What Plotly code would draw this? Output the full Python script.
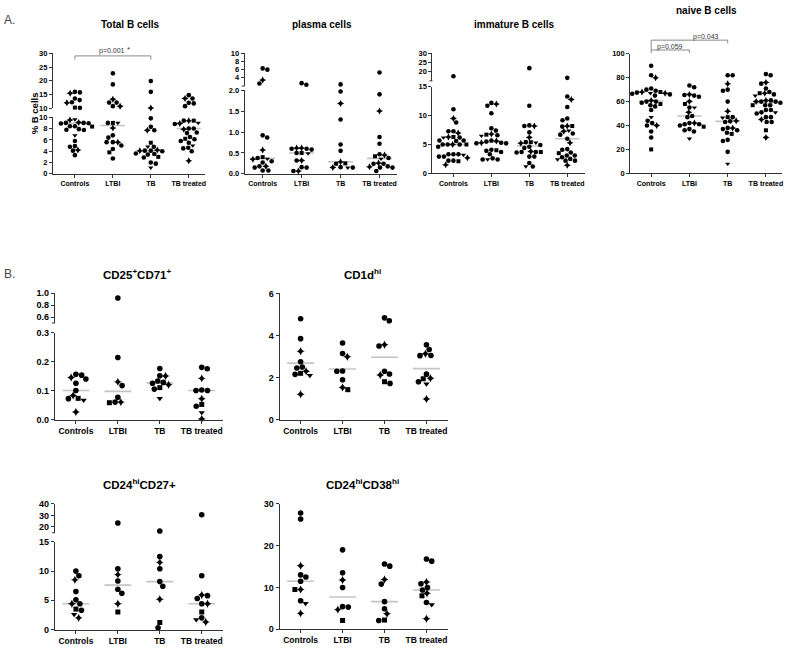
import plotly.graph_objects as go
import numpy as np

W, H = 786, 649
CATEGORIES = ["Controls", "LTBI", "TB", "TB treated"]

# ---------------- Panel A data ----------------
total_controls = [16.0, 15.8, 15.5, 13.6, 13.0, 12.2, 12.0, 10.3, 10.2, 9.6, 9.5, 9.0, 9.0, 8.95, 9.05,
                  8.9, 8.4, 8.4, 8.35, 7.8, 7.9, 7.75, 6.8, 5.8, 4.8, 4.9, 4.2, 4.1, 3.3]
total_ltbi = [22.7, 18.7, 13.3, 12.1, 12.1, 10.8, 10.8, 9.0, 9.0, 9.0, 8.1, 6.8, 6.4, 5.6, 5.6, 5.6,
              5.0, 4.4, 3.8, 2.7]
total_tb = [19.9, 16.0, 10.1, 9.8, 8.3, 7.7, 7.7, 5.5, 4.8, 4.8, 4.2, 4.1, 4.1, 4.0, 4.1, 3.6, 3.5,
            3.4, 3.0, 2.9, 2.0, 1.8, 1.1]
total_tbt = [14.8, 13.6, 13.6, 12.0, 11.8, 10.8, 9.4, 9.4, 9.4, 9.0, 8.9, 8.8, 8.0, 8.0, 7.9, 7.3,
             7.2, 6.5, 6.2, 6.1, 5.8, 5.5, 5.0, 4.6, 4.5, 4.0, 2.3]

plasma_controls = [6.3, 6.0, 3.5, 2.6, 0.92, 0.87, 0.57, 0.40, 0.38, 0.36, 0.35, 0.30, 0.27, 0.18,
                   0.18, 0.15, 0.08, 0.08]
plasma_ltbi = [2.7, 2.3, 0.62, 0.60, 0.58, 0.60, 0.62, 0.50, 0.50, 0.49, 0.32, 0.32, 0.16, 0.15,
               0.07, 0.07]
plasma_tb = [2.4, 1.97, 1.68, 1.3, 0.7, 0.55, 0.29, 0.25, 0.24, 0.15, 0.15, 0.15, 0.16]
plasma_tbt = [5.3, 1.9, 1.5, 0.88, 0.72, 0.47, 0.45, 0.42, 0.38, 0.36, 0.26, 0.24, 0.24, 0.18, 0.17,
              0.15, 0.15, 0.07]

immature_controls = [17.5, 11.1, 9.5, 8.8, 7.3, 7.3, 7.0, 6.3, 6.2, 6.2, 6.3, 5.7, 5.7, 5.6, 5.0,
                     5.0, 5.0, 5.0, 5.0, 4.6, 3.3, 3.3, 3.2, 3.3, 2.9, 2.9, 2.7, 2.2, 2.2, 2.1, 1.5]
immature_ltbi = [12.2, 11.7, 12.0, 10.4, 7.8, 7.4, 6.8, 6.7, 6.6, 6.5, 5.6, 5.7, 5.5, 5.3, 5.3, 5.2,
                 5.2, 4.1, 4.0, 3.9, 3.7, 3.3, 2.4, 2.4, 2.4, 2.6]
immature_tb = [21.9, 11.7, 8.2, 8.2, 8.3, 7.1, 6.2, 5.4, 5.4, 5.3, 5.2, 4.9, 4.6, 4.4, 3.8, 3.7, 3.7,
               3.6, 3.7, 2.9, 2.9, 1.8, 1.2, 1.2]
immature_tbt = [16.6, 13.3, 12.8, 11.5, 9.5, 9.2, 8.2, 8.2, 8.1, 7.4, 7.3, 6.9, 6.7, 6.0, 5.3, 4.1,
                4.2, 3.6, 3.5, 3.1, 3.1, 2.8, 2.4, 2.5, 2.2, 2.2, 1.4]

naive_controls = [90, 82, 80, 71, 70, 69, 68, 68, 67.5, 67, 67, 66.5, 66, 65, 61, 60, 60, 59, 58, 57,
                  56, 53, 47, 44, 42, 40, 40, 35, 30, 20]
naive_ltbi = [73.5, 72, 66, 65.5, 65, 64, 60, 58, 55, 55, 51, 48, 47, 42, 42, 41, 41, 40, 39, 37, 36,
              35, 29]
naive_tb = [82, 82, 75, 70, 69, 60, 52, 47, 47, 46.5, 44, 43.5, 43, 38, 38, 37, 36, 34, 33, 28, 27,
            18, 8]
naive_tbt = [83, 82, 76, 75, 71, 68, 67, 67, 66, 65, 61, 61, 60, 60, 60, 59, 57, 57, 57, 53, 53, 51,
             51, 50, 47, 47, 45, 43, 43, 36, 30]

# ---------------- Panel B data ----------------
cd25_controls = [0.156, 0.153, 0.145, 0.14, 0.125, 0.1, 0.083, 0.073, 0.072, 0.067, 0.026]
cd25_ltbi = [0.92, 0.214, 0.13, 0.117, 0.077, 0.06, 0.06, 0.058]
cd25_tb = [0.176, 0.151, 0.15, 0.133, 0.128, 0.125, 0.12, 0.11, 0.105, 0.073]
cd25_tbt = [0.18, 0.175, 0.142, 0.102, 0.1, 0.1, 0.072, 0.052, 0.046, 0.024, 0.002]

cd1d_controls = [4.8, 3.85, 3.25, 2.75, 2.5, 2.45, 2.3, 2.2, 2.15, 2.1, 1.2]
cd1d_ltbi = [3.64, 3.14, 2.99, 2.31, 2.3, 1.89, 1.53, 1.42]
cd1d_tb = [4.84, 4.7, 3.56, 3.5, 2.3, 2.17, 2.12, 1.8, 1.72]
cd1d_tbt = [3.56, 3.33, 3.13, 3.05, 3.04, 2.16, 1.97, 1.94, 1.8, 1.69, 0.98]

cd27_controls = [10.0, 9.2, 8.5, 6.5, 5.1, 4.4, 4.4, 3.5, 3.3, 2.6, 2.0]
cd27_ltbi = [23.5, 10.4, 9.4, 8.3, 6.9, 6.2, 4.4, 3.0]
cd27_tb = [16.5, 12.5, 11.5, 10.4, 8.2, 7.4, 5.2, 1.2, 0.3]
cd27_tbt = [30.6, 9.2, 5.9, 5.8, 5.3, 4.4, 4.4, 3.0, 2.0, 1.7, 1.3]

cd38_controls = [27.8, 26.4, 15.2, 13.0, 12.5, 11.5, 9.5, 9.5, 6.8, 6.2, 3.8]
cd38_ltbi = [19.0, 13.5, 11.8, 10.0, 5.4, 5.3, 4.7, 2.1]
cd38_tb = [15.6, 15.1, 11.9, 10.8, 6.6, 4.9, 3.7, 2.2, 2.1]
cd38_tbt = [16.8, 16.3, 11.3, 10.9, 10.0, 9.4, 8.6, 8.0, 6.4, 5.9, 2.5]

# ---------------- Tick values ----------------
total_ticks_low = [0, 2, 4, 6, 8, 10]
total_ticks_high = [10, 15, 20, 25, 30]
plasma_ticks_low = [0.0, 0.5, 1.0, 1.5, 2.0]
plasma_ticks_high = [4, 6, 8, 10]
immature_ticks_low = [0, 5, 10, 15]
immature_ticks_high = [20, 25, 30]
naive_ticks = [0, 20, 40, 60, 80, 100]
cd25_ticks_low = [0.0, 0.1, 0.2, 0.3]
cd25_ticks_high = [0.6, 0.8, 1.0]
cd1d_ticks = [0, 2, 4, 6]
cd27_ticks_low = [0, 5, 10, 15]
cd27_ticks_high = [20, 30, 40]
cd38_ticks = [0, 10, 20, 30]

SANS = "Liberation Sans, Arial, sans-serif"
INK = "#000000"
AXC = "#333333"

# panel geometry in pixels: xgeom=(axis_left, first_category, spacing, axis_right)
# seg px=(bottom, top); brk=True draws a break tick at the bottom of the upper segment
panels = [
    dict(title="Total B cells", tpos=(131, 20), groups=[total_controls, total_ltbi, total_tb, total_tbt],
         xgeom=(53, 75, 38, 205), small=True, stat="median",
         segs=[dict(rng=(0, 10), px=(171.5, 114), ticks=total_ticks_low, fmt="{:g}", brk=False),
               dict(rng=(10, 30), px=(105, 49), ticks=total_ticks_high, fmt="{:g}", brk=False)]),
    dict(title="plasma cells", tpos=(322, 20), groups=[plasma_controls, plasma_ltbi, plasma_tb, plasma_tbt],
         xgeom=(245, 263, 39, 398), small=True, stat="median",
         segs=[dict(rng=(0, 2), px=(171.5, 86.5), ticks=plasma_ticks_low, fmt="{:.1f}", brk=False),
               dict(rng=(2, 10), px=(82.3, 49), ticks=plasma_ticks_high, fmt="{:g}", brk=True)]),
    dict(title="immature B cells", tpos=(515, 20),
         groups=[immature_controls, immature_ltbi, immature_tb, immature_tbt],
         xgeom=(433, 454, 38, 586), small=True, stat="median",
         segs=[dict(rng=(0, 15), px=(171, 83), ticks=immature_ticks_low, fmt="{:g}", brk=False),
               dict(rng=(15, 30), px=(77, 49), ticks=immature_ticks_high, fmt="{:g}", brk=True)]),
    dict(title="naive B cells", tpos=(707, 6), groups=[naive_controls, naive_ltbi, naive_tb, naive_tbt],
         xgeom=(631, 652, 38.3, 783), small=True, stat="median",
         segs=[dict(rng=(0, 100), px=(171, 49.5), ticks=naive_ticks, fmt="{:g}", brk=False)]),
    dict(title="CD25<sup>+</sup>CD71<sup>+</sup>", tpos=(138, 273),
         groups=[cd25_controls, cd25_ltbi, cd25_tb, cd25_tbt],
         xgeom=(55, 76, 42, 223), small=False, stat="median",
         segs=[dict(rng=(0, 0.3), px=(421, 332.7), ticks=cd25_ticks_low, fmt="{:.1f}", brk=False),
               dict(rng=(0.5, 1.0), px=(323, 292.7), ticks=cd25_ticks_high, fmt="{:.1f}", brk=True)]),
    dict(title="CD1d<sup>hi</sup>", tpos=(363, 273), groups=[cd1d_controls, cd1d_ltbi, cd1d_tb, cd1d_tbt],
         xgeom=(280, 301, 42, 449), small=False, stat="mean",
         segs=[dict(rng=(0, 6), px=(421, 293), ticks=cd1d_ticks, fmt="{:g}", brk=False)]),
    dict(title="CD24<sup>hi</sup>CD27+", tpos=(140, 487), groups=[cd27_controls, cd27_ltbi, cd27_tb, cd27_tbt],
         xgeom=(55, 76, 42, 223), small=False, stat="median",
         segs=[dict(rng=(0, 15), px=(634.3, 545.3), ticks=cd27_ticks_low, fmt="{:g}", brk=False),
               dict(rng=(15, 40), px=(536, 506.7), ticks=cd27_ticks_high, fmt="{:g}", brk=True)]),
    dict(title="CD24<sup>hi</sup>CD38<sup>hi</sup>", tpos=(363, 487),
         groups=[cd38_controls, cd38_ltbi, cd38_tb, cd38_tbt],
         xgeom=(280, 301, 42, 449), small=False, stat="median",
         segs=[dict(rng=(0, 30), px=(634, 506.7), ticks=cd38_ticks, fmt="{:g}", brk=False)]),
]


def seg_index(p, v):
    segs = p["segs"]
    if len(segs) > 1 and v > segs[0]["rng"][1]:
        return 1
    return 0


def value_px(p, v):
    s = p["segs"][seg_index(p, v)]
    lo, hi = s["rng"]
    b, t = s["px"]
    return b - (v - lo) / (hi - lo) * (b - t)


def swarm(ypx, dmin, step=0.25):
    n = len(ypx)
    order = sorted(range(n), key=lambda i: ypx[i])
    placed = []
    offs = [0.0] * n
    flip = 1.0
    for i in order:
        y = ypx[i]
        k = 0
        best = None
        while best is None:
            cands = [0.0] if k == 0 else [flip * k * step, -flip * k * step]
            for c in cands:
                if all((c - qx) ** 2 + (y - qy) ** 2 >= dmin ** 2 for qx, qy in placed):
                    best = c
                    break
            k += 1
        placed.append((best, y))
        offs[i] = best
        if best != 0:
            flip = -np.sign(best)
    return offs


def symbol_for(i):
    if i % 11 == 7:
        return "square"
    if i % 13 == 9:
        return "triangle-down"
    if i % 4 == 2:
        return "star-diamond"
    return "circle"


def pxx(px):
    return px / W


def pyy(py):
    return 1 - py / H


layout = dict(width=W, height=H, autosize=False, margin=dict(l=0, r=0, t=0, b=0, pad=0),
              paper_bgcolor="white", plot_bgcolor="rgba(0,0,0,0)", showlegend=False)
traces = []
annotations = []
shapes = []
xaxes_names = []

xi = 0
yi = 0
for p in panels:
    xi += 1
    xname = "x" if xi == 1 else f"x{xi}"
    xkey = "xaxis" if xi == 1 else f"xaxis{xi}"
    xaxes_names.append(xname)
    left, c0, sp, right = p["xgeom"]
    small = p["small"]
    tfs = 7 if small else 8.5
    yfs = 7.5 if small else 9
    ynames = []
    for si, s in enumerate(p["segs"]):
        yi += 1
        yname = "y" if yi == 1 else f"y{yi}"
        ykey = "yaxis" if yi == 1 else f"yaxis{yi}"
        ynames.append(yname)
        ttext = [s["fmt"].format(t) for t in s["ticks"]]
        layout[ykey] = dict(domain=[pyy(s["px"][0]), pyy(s["px"][1])], range=list(s["rng"]), anchor=xname,
                            tickvals=s["ticks"], ticktext=ttext, showline=True, linecolor=AXC, linewidth=1,
                            ticks="outside", ticklen=3, tickwidth=1, tickcolor=AXC, showgrid=False,
                            zeroline=False, tickfont=dict(family=SANS, size=yfs, color=INK, weight="bold"),
                            fixedrange=True)
        if s["brk"]:
            shapes.append(dict(type="line", xref="paper", yref="paper", x0=pxx(left - 3), x1=pxx(left),
                               y0=pyy(s["px"][0]), y1=pyy(s["px"][0]), line=dict(color=AXC, width=1)))
    layout[xkey] = dict(domain=[pxx(left), pxx(right)], range=[(left - c0) / sp, (right - c0) / sp],
                        anchor=ynames[0], tickvals=[0, 1, 2, 3], ticktext=CATEGORIES, showline=True,
                        linecolor=AXC, linewidth=1, ticks="outside", ticklen=3, tickwidth=1, tickcolor=AXC,
                        showgrid=False, zeroline=False,
                        tickfont=dict(family=SANS, size=tfs, color=INK, weight="bold"), fixedrange=True)

    dmin = 4.9 if small else 5.6
    msize = 4.6 if small else 5.6
    for c, vals in enumerate(p["groups"]):
        ypx = [value_px(p, v) for v in vals]
        offs = swarm(ypx, dmin)
        stat = float(np.median(vals)) if p["stat"] == "median" else float(np.mean(vals))
        hw = 0.32
        traces.append(go.Scatter(x=[c - hw, c + hw], y=[stat, stat], mode="lines",
                                 line=dict(color="#c4c4c4", width=1.6), xaxis=xname,
                                 yaxis=ynames[seg_index(p, stat)], hoverinfo="skip"))
        for si in range(len(p["segs"])):
            idx = [i for i, v in enumerate(vals) if seg_index(p, v) == si]
            if not idx:
                continue
            syms = [symbol_for(i) for i in idx]
            sizes = [msize + (0.4 if s_ == "star-diamond" else 0) - (0.6 if s_ == "square" else 0) for s_ in syms]
            traces.append(go.Scatter(x=[c + offs[i] / sp for i in idx], y=[vals[i] for i in idx],
                                     mode="markers", cliponaxis=False,
                                     marker=dict(color=INK, size=sizes, symbol=syms, opacity=1,
                                                 line=dict(width=0)),
                                     xaxis=xname, yaxis=ynames[si], hoverinfo="skip"))
    annotations.append(dict(text=p["title"], x=pxx(p["tpos"][0]), y=pyy(p["tpos"][1]), xref="paper",
                            yref="paper", showarrow=False, xanchor="center", yanchor="middle",
                            font=dict(family=SANS, size=10 if small else 11.5, color=INK, weight="bold")))

annotations.append(dict(text="A.", x=pxx(2), y=pyy(15), xref="paper", yref="paper", showarrow=False,
                        xanchor="left", yanchor="middle", font=dict(family=SANS, size=12, color="#444")))
annotations.append(dict(text="B.", x=pxx(2), y=pyy(273), xref="paper", yref="paper", showarrow=False,
                        xanchor="left", yanchor="middle", font=dict(family=SANS, size=12, color="#444")))
annotations.append(dict(text="% B cells", x=pxx(34), y=pyy(110), xref="paper", yref="paper",
                        showarrow=False, textangle=-90, xanchor="center", yanchor="middle",
                        font=dict(family=SANS, size=9.5, color=INK, weight="bold")))

BR = "#8a8a8a"


def bracket(xname, x0, x1, y_top, y0_bottom, y1_bottom):
    shapes.append(dict(type="line", xref=xname, yref="paper", x0=x0, x1=x1, y0=pyy(y_top), y1=pyy(y_top),
                       line=dict(color=BR, width=1)))
    shapes.append(dict(type="line", xref=xname, yref="paper", x0=x0, x1=x0, y0=pyy(y_top), y1=pyy(y0_bottom),
                       line=dict(color=BR, width=1)))
    shapes.append(dict(type="line", xref=xname, yref="paper", x0=x1, x1=x1, y0=pyy(y_top), y1=pyy(y1_bottom),
                       line=dict(color=BR, width=1)))


bracket(xaxes_names[0], 0, 2, 51.7, 55.5, 55.5)
bracket(xaxes_names[3], 0, 1, 45.7, 48.7, 48.7)
bracket(xaxes_names[3], 0, 2, 35.7, 45.7, 39)

PF = dict(family=SANS, size=7, color="#333")
annotations.append(dict(text="p=0.001", x=pxx(112), y=pyy(46.5), xref="paper", yref="paper", showarrow=False,
                        xanchor="center", yanchor="middle", font=PF))
annotations.append(dict(text="*", x=pxx(129), y=pyy(45.5), xref="paper", yref="paper", showarrow=False,
                        xanchor="center", yanchor="middle", font=dict(family=SANS, size=8, color="#333")))
annotations.append(dict(text="p=0.059", x=pxx(671), y=pyy(42.5), xref="paper", yref="paper", showarrow=False,
                        xanchor="center", yanchor="middle", font=PF))
annotations.append(dict(text="p=0.043", x=pxx(707), y=pyy(32), xref="paper", yref="paper", showarrow=False,
                        xanchor="center", yanchor="middle", font=PF))

layout["annotations"] = annotations
layout["shapes"] = shapes

fig = go.Figure(data=traces, layout=layout)
fig.write_html("out.html", config={"displayModeBar": False, "staticPlot": True},
               post_script="document.body.style.margin='0';document.body.style.overflow='hidden';")
